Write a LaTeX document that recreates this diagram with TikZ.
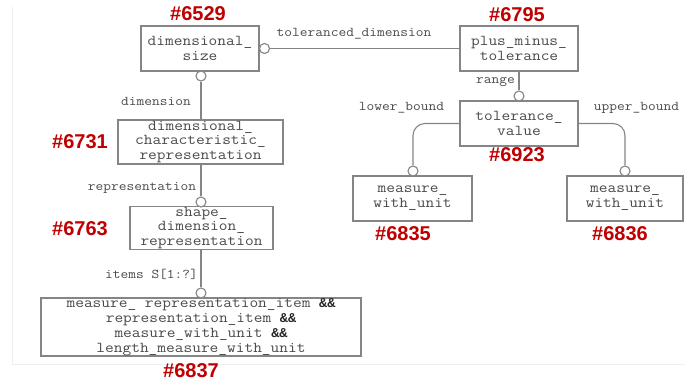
\documentclass[tikz,border=0pt]{standalone}
\usepackage{fontspec}
\setmainfont{Liberation Sans}
\setsansfont{Liberation Sans}
\setmonofont{Latin Modern Mono}[FakeStretch=1.12]
\newfontfamily\ampfont{Liberation Mono}[FakeStretch=1.0]
\definecolor{boxline}{HTML}{858585}
\definecolor{txt}{HTML}{4A4A4A}
\definecolor{idred}{HTML}{C00000}
\definecolor{frame}{HTML}{EEEEEE}
\tikzset{
  ent/.style={draw=boxline, line width=1.1pt, fill=white, inner sep=0pt, align=center,
    font=\fontsize{15.1}{14.8}\selectfont\ttfamily, text=txt},
  lbl/.style={font=\fontsize{13.4}{13.4}\selectfont\ttfamily, text=txt, inner sep=0pt},
  idlbl/.style={font=\fontsize{20}{20}\selectfont\sffamily\bfseries, text=idred, inner sep=0pt},
  circ/.style={circle, draw=boxline, line width=1.1pt, fill=white, minimum size=10pt, inner sep=0pt},
  conn/.style={draw=boxline, line width=1.1pt}
}
\newcommand{\amp}{{\ampfont\bfseries\fontsize{13.5}{14.8}\selectfont\textcolor{black!85}{\&\&}}}
\begin{document}
\begin{tikzpicture}[x=1pt,y=-1pt]
\useasboundingbox (0,0) rectangle (685,381);
% faint frame
\draw[frame, line width=0.8pt] (12,7) -- (12,364) -- (685,364);

% entities
\node[ent, minimum width=118pt, minimum height=45pt] (dimsize) at (200,48.5) {dimensional\_\\size};
\node[ent, minimum width=118pt, minimum height=45pt] (pmt) at (519,48.5) {plus\_minus\_\\tolerance};
\node[ent, minimum width=118pt, minimum height=45pt] (tolval) at (519,123.5) {tolerance\_\\value};
\node[ent, minimum width=119pt, minimum height=45pt] (mwua) at (412.5,198.5) {measure\_\\with\_unit};
\node[ent, minimum width=116pt, minimum height=45pt] (mwub) at (625,198.5) {measure\_\\with\_unit};
\node[ent, minimum width=165pt, minimum height=44pt] (dcr) at (200.5,142) {dimensional\_\\characteristic\_\\representation};
\node[ent, minimum width=143pt, minimum height=42pt] (sdr) at (201.5,228) {shape\_\\dimension\_\\representation};
\node[ent, minimum width=320pt, minimum height=58pt] (mri) at (201,327)
  {measure\_ representation\_item \amp\\representation\_item \amp\\measure\_with\_unit \amp\\length\_measure\_with\_unit};

% circles
\node[circ] (c1) at (264.5,48.5) {};
\node[circ] (c2) at (201,76) {};
\node[circ] (c3) at (201,202) {};
\node[circ] (c4) at (201,293) {};
\node[circ] (c5) at (519,96) {};
\node[circ] (c6) at (413,171) {};
\node[circ] (c7) at (625,171) {};

% connectors
\draw[conn] (c1.east) -- (pmt.west);
\draw[conn] (c2.south) -- (dcr.north -| c2.south);
\draw[conn] (dcr.south -| c3.north) -- (c3.north);
\draw[conn] (sdr.south -| c4.north) -- (c4.north);
\draw[conn] (pmt.south -| c5.north) -- (c5.north);
\draw[conn, rounded corners=12pt] (tolval.west) -| (c6.north);
\draw[conn, rounded corners=12pt] (tolval.east) -| (c7.north);

% role labels
\node[lbl] (l1) at (354,34) {toleranced\_dimension};
\node[lbl] (l2) at (156,101) {dimension};
\node[lbl] (l3) at (142,188) {representation};
\node[lbl] (l4) at (151.5,274) {items S[1:?]};
\node[lbl] (l5) at (495.5,82) {range};
\node[lbl] (l6) at (401.5,108) {lower\_bound};
\node[lbl] (l7) at (636.5,108) {upper\_bound};

% ids
\node[idlbl] (i1) at (198,14) {\#6529};
\node[idlbl] (i2) at (517,15) {\#6795};
\node[idlbl] (i3) at (517,155) {\#6923};
\node[idlbl] (i4) at (80,142) {\#6731};
\node[idlbl] (i5) at (80,229) {\#6763};
\node[idlbl] (i6) at (403,234) {\#6835};
\node[idlbl] (i7) at (620,234) {\#6836};
\node[idlbl] (i8) at (191,370.5) {\#6837};
\end{tikzpicture}
\end{document}
